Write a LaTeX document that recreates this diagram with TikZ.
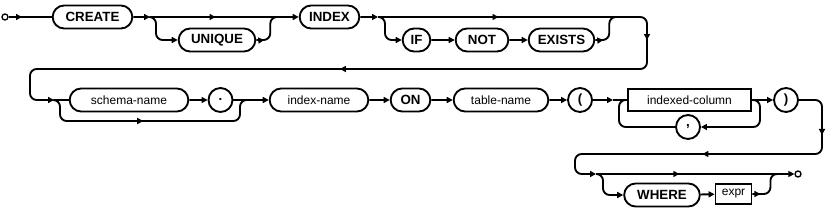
\documentclass[tikz,border=0pt]{standalone}
\usepackage{fontspec}
\setmainfont{Liberation Sans}
\usetikzlibrary{shapes.misc,arrows.meta,decorations.markings}

\begin{document}
\begin{tikzpicture}[
    x=0.75pt, y=-0.75pt,
    line width=1.4pt,
    >={Triangle[length=4.5pt,width=4.5pt]},
    kw/.style={draw, rounded rectangle, minimum height=17.25pt, inner xsep=2pt, font=\bfseries\fontsize{10}{12}\selectfont},
    nt/.style={draw, rounded rectangle, minimum height=17.25pt, inner xsep=2pt, font=\fontsize{9}{11}\selectfont},
    refbox/.style={draw, rectangle, minimum height=16.5pt, inner xsep=2pt, font=\fontsize{9}{11}\selectfont},
    punct/.style={draw, circle, minimum size=18pt, inner sep=0pt, font=\bfseries\fontsize{10}{12}\selectfont},
    term/.style={draw, circle, line width=1pt, minimum size=4.5pt, inner sep=0pt},
    conn/.style={rounded corners=5pt},
    arrat/.style={postaction={decorate, decoration={markings, mark=at position #1 with {\arrow{>}}}}}
]
\fill[white] (0,0) rectangle (830,213);
\useasboundingbox (0,0) rectangle (830,213);

% row 1
\node[term] (start) at (5,17) {};
\node[kw, minimum width=63.75pt] (create) at (92.5,17) {CREATE};
\node[kw, minimum width=61.5pt] (unique) at (217,40) {UNIQUE};
\node[kw, minimum width=48.75pt] (index) at (329.5,17) {INDEX};
\node[kw, minimum width=24.75pt] (if) at (416.5,40) {IF};
\node[kw, minimum width=43.5pt] (not) at (482,40) {NOT};
\node[kw, minimum width=53.25pt] (exists) at (561.5,40) {EXISTS};

% row 2
\node[nt, minimum width=93pt] (schema) at (129,100) {schema-name};
\node[punct] (dot) at (220.5,100) {.};
\node[nt, minimum width=78pt] (idxname) at (319,100) {index-name};
\node[kw, minimum width=33.75pt] (on) at (410.5,100) {ON};
\node[nt, minimum width=75pt] (tblname) at (501,100) {table-name};
\node[punct] (lpar) at (580,100) {(};
\node[refbox, minimum width=92.25pt] (icol) at (689.5,100) {indexed-column};
\node[punct] (comma) at (688,127) {,};
\node[punct] (rpar) at (786,100) {)};

% row 3
\node[kw, minimum width=60.75pt] (where) at (662,195) {WHERE};
\node[refbox, minimum width=27pt, minimum height=15pt] (expr) at (733.5,194) {expr};
\node[term] (end) at (798,174) {};

\coordinate (b1) at (150,17);
\coordinate (m1) at (281,17);
\coordinate (b2) at (378,17);
\coordinate (m2) at (619,17);
\coordinate (c1) at (647,69);
\coordinate (c2) at (30,100);
\coordinate (b3) at (54,100);
\coordinate (m3) at (246,100);
\coordinate (b5) at (613,100);
\coordinate (lp) at (619,100);
\coordinate (c3) at (822,154);
\coordinate (c4) at (575,174);
\coordinate (b6) at (596,174);
\coordinate (m6) at (777,174);

\draw[arrat=10pt] (start) -- (create);
\draw[->] (create) -- (b1);
\draw[arrat=0.5] (b1) -- (m1);
\draw[conn, ->] (b1) -- ++(6,0) |- (unique);
\draw[conn, arrat=6pt] (unique.east) -- ++(14,0) |- (m1);
\draw[->] (m1) -- (index);
\draw[->] (index) -- (b2);
\draw[arrat=0.5] (b2) -- (m2);
\draw[conn, ->] (b2) -- ++(7,0) |- (if);
\draw[->] (if) -- (not);
\draw[->] (not) -- (exists);
\draw[conn, arrat=6pt] (exists.east) -- ++(14,0) |- (m2);
\draw[conn, ->, arrat=0.065, arrat=0.515] (m2) -| (c1) -| (c2) -- (b3);

\draw (b3) -- (schema);
\draw[conn, arrat=0.47] (b3) -| ++(6,21) -- ++(180,0) |- (m3);
\draw[->] (schema) -- (dot);
\draw (dot) -- (m3);
\draw[->] (m3) -- (idxname);
\draw[->] (idxname) -- (on);
\draw[->] (on) -- (tblname);
\draw[->] (tblname) -- (lpar);
\draw[->] (lpar) -- (b5);
\draw (b5) -- (icol);
\draw[->] (icol) -- (rpar);
\draw[conn, ->] (icol.east) -- ++(8,0) |- (comma);
\draw[conn] (comma) -| (lp) -- (icol.west);
\draw[conn, ->, arrat=0.156, arrat=0.54] (rpar) -| (c3) -| (c4) -- (b6);

\draw[arrat=0.46] (b6) -- (m6);
\draw[->] (m6) -- (end);
\draw[conn, ->] (b6) -- ++(7,0) |- (where);
\draw[->] (where) -- (expr);
\draw[conn, arrat=6pt] (expr.east) -- ++(18,0) |- (m6);
\end{tikzpicture}
\end{document}
